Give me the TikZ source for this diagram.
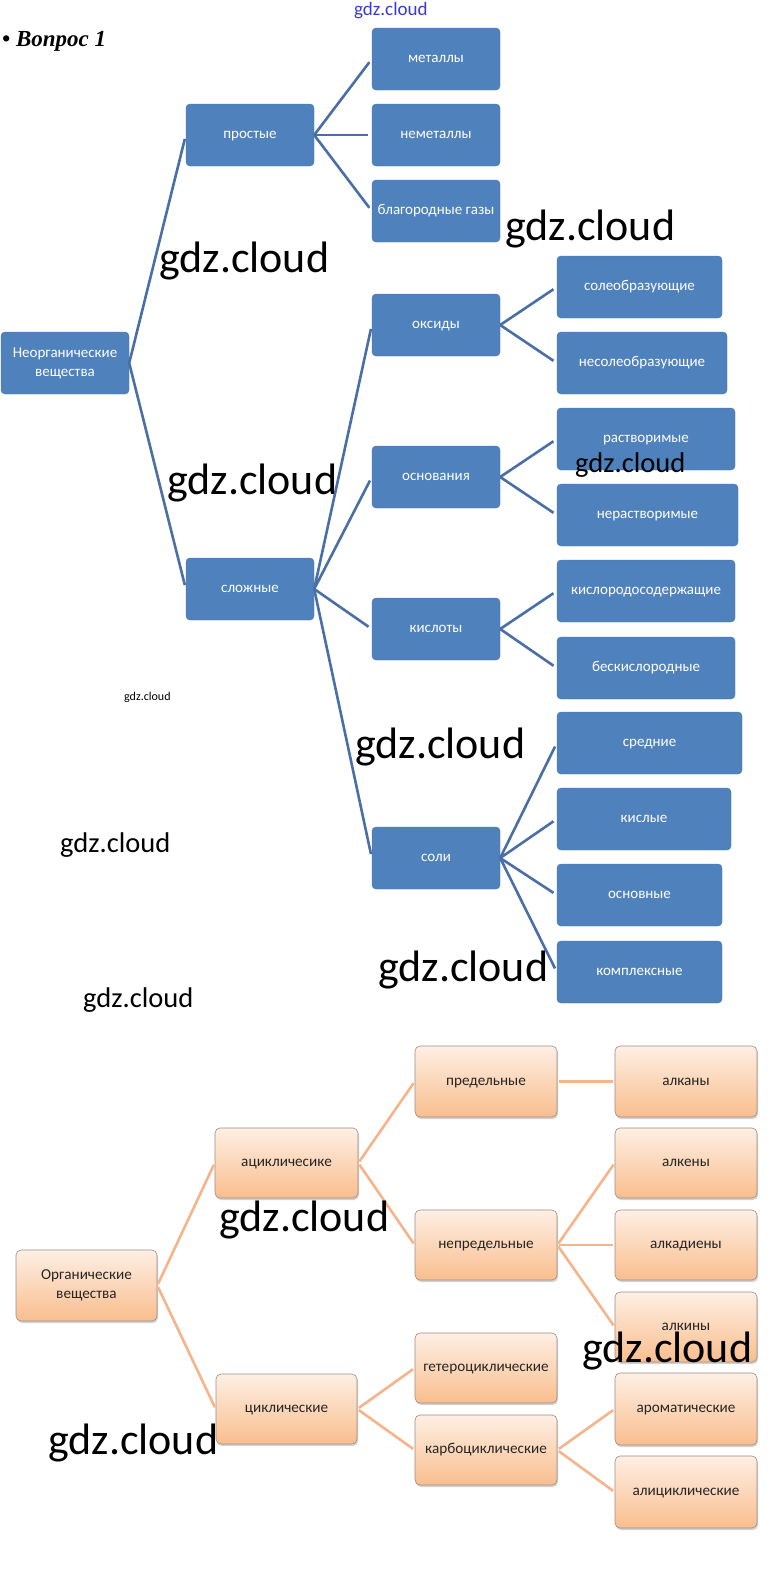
\documentclass[tikz,border=0pt]{standalone}
\usepackage{fontspec}
\setmainfont{Carlito}
\newfontfamily\qfont{Liberation Serif}
\usetikzlibrary{shadows}
\definecolor{bfill}{HTML}{4F81BD}
\definecolor{bline}{HTML}{4A6EA6}
\definecolor{otop}{HTML}{FEEFE4}
\definecolor{obot}{HTML}{F9BE8E}
\definecolor{oline}{HTML}{F6B48A}
\definecolor{oedge}{HTML}{9C8E86}
\definecolor{wmblue}{HTML}{3A3AD0}
\begin{document}
\begin{tikzpicture}[x=1pt,y=-1pt,
 bbox/.style={rectangle, rounded corners=4pt, fill=bfill, draw=bfill!92!black, line width=0.4pt, text=white, font=\fontsize{15}{19}\selectfont, minimum height=62pt, minimum width=128pt, inner sep=0pt, align=center, text height=7pt, text depth=0pt},
 obox/.style={rectangle, rounded corners=5pt, top color=otop, bottom color=obot, draw=oedge, line width=0.6pt, text=black!85, font=\fontsize{15.2}{19}\selectfont, minimum height=71pt, minimum width=142pt, inner sep=0pt, align=center, text height=7pt, text depth=0pt, drop shadow={shadow xshift=1pt, shadow yshift=-2pt, fill=black!35}},
 twoline/.style={text height=26pt, text depth=0pt},
 bcon/.style={draw=bline, line width=2.6pt, shorten >=4pt},
 ocon/.style={draw=oline, line width=2.6pt, shorten >=2pt, shorten <=2pt},
 wm/.style={anchor=west, inner sep=0pt, text=black},
 wmbig/.style={wm, font=\fontsize{44}{52}\selectfont},
 wmmid/.style={wm, font=\fontsize{28.5}{33}\selectfont},
]
\useasboundingbox[fill=white] (0,0) rectangle (784,1577);

% title
\node[anchor=base west, inner sep=0pt, font=\qfont\bfseries\itshape\fontsize{23}{27}\selectfont] (title) at (2,46) {\textbullet\ Вопрос 1};

% blue tree
\node[bbox, twoline] (root) at (65,363) {Неорганические\\вещества};
\node[bbox] (prost) at (250,135) {простые};
\node[bbox] (slozh) at (250,589) {сложные};
\node[bbox] (met) at (436,59) {металлы};
\node[bbox] (nemet) at (436,135) {неметаллы};
\node[bbox] (blag) at (436,211) {благородные газы};
\node[bbox] (oks) at (436,325) {оксиды};
\node[bbox] (osn) at (436,477) {основания};
\node[bbox] (kisl) at (436,629) {кислоты};
\node[bbox] (soli) at (436,858) {соли};
\node[bbox, minimum width=165pt] (sol) at (639.5,287) {солеобразующие};
\node[bbox, minimum width=170pt] (nesol) at (642,363) {несолеобразующие};
\node[bbox, minimum width=178pt] (rastv) at (646,439) {растворимые};
\node[bbox, minimum width=181pt] (nerastv) at (647.5,515) {нерастворимые};
\node[bbox, minimum width=178pt] (kislor) at (646,591) {кислородосодержащие};
\node[bbox, minimum width=178pt] (beskisl) at (646,668) {бескислородные};
\node[bbox, minimum width=185pt] (sred) at (649.5,743) {средние};
\node[bbox, minimum width=174pt] (kislye) at (644,819) {кислые};
\node[bbox, minimum width=165pt] (osnovn) at (639.5,895) {основные};
\node[bbox, minimum width=165pt] (kompl) at (639.5,972) {комплексные};

\foreach \a/\b in {root/prost, root/slozh, prost/met, prost/nemet, prost/blag,
  slozh/oks, slozh/osn, slozh/kisl, slozh/soli, oks/sol, oks/nesol,
  osn/rastv, osn/nerastv, kisl/kislor, kisl/beskisl,
  soli/sred, soli/kislye, soli/osnovn, soli/kompl}
  \draw[bcon] (\a.east) -- (\b.west);

% orange tree
\node[obox, twoline, minimum width=141pt] (org) at (86.5,1285.5) {Органические\\вещества};
\node[obox, minimum width=143pt, minimum height=70pt] (acyc) at (286.5,1163) {ацикличесике};
\node[obox, minimum width=141pt, minimum height=70pt] (cyc) at (286.5,1409) {циклические};
\node[obox] (pred) at (486,1081.5) {предельные};
\node[obox, minimum height=70pt] (nepred) at (486,1245) {непредельные};
\node[obox, minimum height=70pt] (getero) at (486,1368) {гетероциклические};
\node[obox, minimum height=70pt] (karbo) at (486,1450) {карбоциклические};
\node[obox] (alkany) at (686,1081.5) {алканы};
\node[obox, minimum height=70pt] (alkeny) at (686,1163) {алкены};
\node[obox, minimum height=70pt] (alkadieny) at (686,1245) {алкадиены};
\node[obox, minimum height=70pt] (alkiny) at (686,1327) {алкины};
\node[obox, minimum height=72pt] (arom) at (686,1409) {ароматические};
\node[obox, minimum height=72pt] (alicycl) at (686,1492) {алициклические};

\foreach \a/\b in {org/acyc, org/cyc, acyc/pred, acyc/nepred, pred/alkany,
  nepred/alkeny, nepred/alkadieny, nepred/alkiny, cyc/getero, cyc/karbo,
  karbo/arom, karbo/alicycl}
  \draw[ocon] (\a.east) -- (\b.west);

% watermarks
\node[wm, text=wmblue, font=\fontsize{19}{22}\selectfont] (w0) at (354,11) {gdz.cloud};
\node[wmbig] (w1) at (159,261) {gdz.cloud};
\node[wmbig] (w2) at (505,229) {gdz.cloud};
\node[wmbig] (w3) at (167,483) {gdz.cloud};
\node[wmmid] (w4) at (575,465) {gdz.cloud};
\node[wm, font=\fontsize{12}{14}\selectfont] (w5) at (124,697) {gdz.cloud};
\node[wmmid] (w6) at (60,845) {gdz.cloud};
\node[wmbig] (w7) at (355,747) {gdz.cloud};
\node[wmbig] (w8) at (378,970) {gdz.cloud};
\node[wmmid] (w9) at (83,1000) {gdz.cloud};
\node[wmbig] (w10) at (219,1220) {gdz.cloud};
\node[wmbig] (w11) at (582,1351) {gdz.cloud};
\node[wmbig] (w12) at (48,1443) {gdz.cloud};
\end{tikzpicture}
\end{document}
